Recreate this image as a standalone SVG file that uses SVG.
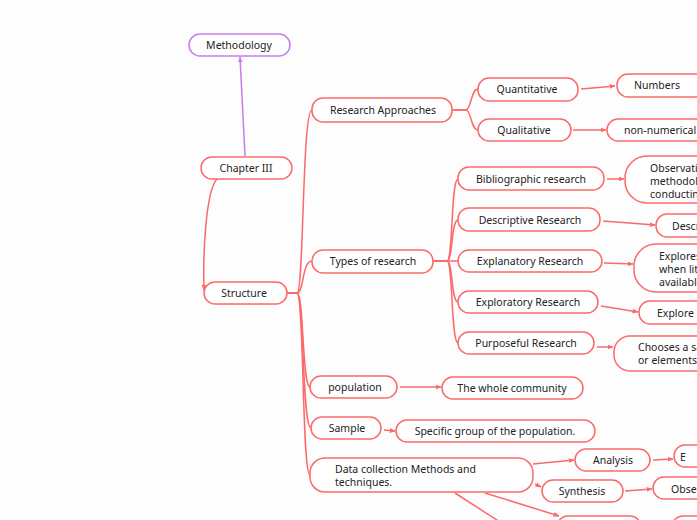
<svg xmlns="http://www.w3.org/2000/svg" width="697" height="520" viewBox="0 0 697 520">
<defs>
<style>
.n{fill:#fff;stroke:#fb6a6a;stroke-width:1.5}
.p{fill:#fff;stroke:#c77de8;stroke-width:1.5}
text{font-family:"Noto Sans","Liberation Sans",sans-serif;font-size:10.5px;fill:#222}
.c{text-anchor:middle;dominant-baseline:central}
.l{dominant-baseline:central}
.e{fill:none;stroke:#fb6a6a;stroke-width:1.5}
.ep{fill:none;stroke:#c77de8;stroke-width:1.5}
</style>
<marker id="a" viewBox="0 0 10 10" refX="9" refY="5" markerWidth="6" markerHeight="6" orient="auto" markerUnits="userSpaceOnUse"><path d="M0,1 L10,5 L0,9 z" fill="#fb6a6a"/></marker>
<marker id="ap" viewBox="0 0 10 10" refX="9" refY="5" markerWidth="6" markerHeight="6" orient="auto" markerUnits="userSpaceOnUse"><path d="M0,1 L10,5 L0,9 z" fill="#c77de8"/></marker>
</defs>
<rect width="697" height="520" fill="#fdfdfd"/>
<g id="connectors">
<path class="ep" d="M245,156 L240,57" marker-end="url(#ap)"/>
<path class="e" d="M217,179 C205,192 203,260 204,290" marker-end="url(#a)"/>
<path class="e" d="M287,293 L297,293 C304,293 302,110 312,110"/>
<path class="e" d="M287,293 L297,293 C304,293 302,261 312,261"/>
<path class="e" d="M287,293 L297,293 C304,293 302,387 310,387"/>
<path class="e" d="M287,293 L297,293 C304,293 302,428 311,428"/>
<path class="e" d="M287,293 L297,293 C304,293 302,475 310,475"/>
<path class="e" d="M452,110 L466,110 C471,110 471,89 478,89"/>
<path class="e" d="M452,110 L466,110 C471,110 471,130 478,130"/>
<path class="e" d="M433,261 L447,261 C453,261 451,179 458,179"/>
<path class="e" d="M433,261 L447,261 C453,261 451,220 458,220"/>
<path class="e" d="M433,261 L458,261"/>
<path class="e" d="M433,261 L447,261 C453,261 451,302 458,302"/>
<path class="e" d="M433,261 L447,261 C453,261 451,343 458,343"/>
<path class="e" d="M581,89 L615,86" marker-end="url(#a)"/>
<path class="e" d="M573,130 L606,130" marker-end="url(#a)"/>
<path class="e" d="M607,179 L624,179" marker-end="url(#a)"/>
<path class="e" d="M603,221 L655,225" marker-end="url(#a)"/>
<path class="e" d="M604,263 L633,264" marker-end="url(#a)"/>
<path class="e" d="M601,306 L638,312" marker-end="url(#a)"/>
<path class="e" d="M597,347 L613,347" marker-end="url(#a)"/>
<path class="e" d="M400,387 L441,387" marker-end="url(#a)"/>
<path class="e" d="M384,430 L395,431" marker-end="url(#a)"/>
<path class="e" d="M533,464 L574,460" marker-end="url(#a)"/>
<path class="e" d="M653,460 L673,459" marker-end="url(#a)"/>
<path class="e" d="M535,484 L541,487" marker-end="url(#a)"/>
<path class="e" d="M625,491 L652,489" marker-end="url(#a)"/>
<path class="e" d="M485,493 L559,516" marker-end="url(#a)"/>
<path class="e" d="M455,493 L500,522"/>
</g>
<g id="methodology"><rect class="p" x="189" y="34" width="101" height="22" rx="11"/><text class="c" x="239" y="45">Methodology</text></g>
<g id="chapter3"><rect class="n" x="201" y="157" width="91" height="22" rx="11"/><text class="c" x="246" y="168">Chapter III</text></g>
<g id="structure"><rect class="n" x="204" y="282" width="83" height="22" rx="11"/><text class="c" x="244" y="293">Structure</text></g>
<g id="approaches"><rect class="n" x="312" y="98" width="140" height="24" rx="11"/><text class="c" x="383" y="110">Research Approaches</text></g>
<g id="types"><rect class="n" x="312" y="250" width="121" height="23" rx="11"/><text class="c" x="373" y="261">Types of research</text></g>
<g id="population"><rect class="n" x="310" y="376" width="87" height="22" rx="11"/><text class="c" x="355" y="387">population</text></g>
<g id="sample"><rect class="n" x="311" y="417" width="70" height="22" rx="11"/><text class="c" x="347" y="428">Sample</text></g>
<g id="datacollection"><rect class="n" x="310" y="458" width="223" height="34" rx="15"/><text class="l" x="335" y="469">Data collection Methods and</text><text class="l" x="335" y="482">techniques.</text></g>
<g id="quantitative"><rect class="n" x="478" y="78" width="100" height="23" rx="11"/><text class="c" x="527" y="89">Quantitative</text></g>
<g id="qualitative"><rect class="n" x="478" y="119" width="93" height="22" rx="11"/><text class="c" x="524" y="130">Qualitative</text></g>
<g id="numbers"><rect class="n" x="617" y="74" width="100" height="23" rx="11"/><text class="c" x="657" y="85">Numbers</text></g>
<g id="nonnumerical"><rect class="n" x="607" y="119" width="110" height="22" rx="11"/><text class="l" x="624" y="130">non-numerical</text></g>
<g id="bibliographic"><rect class="n" x="458" y="167" width="146" height="23" rx="11"/><text class="c" x="531" y="179">Bibliographic research</text></g>
<g id="descriptive"><rect class="n" x="458" y="208" width="142" height="23" rx="11"/><text class="c" x="530" y="220">Descriptive Research</text></g>
<g id="explanatory"><rect class="n" x="458" y="250" width="144" height="22" rx="11"/><text class="c" x="530" y="261">Explanatory Research</text></g>
<g id="exploratory"><rect class="n" x="458" y="291" width="140" height="22" rx="11"/><text class="c" x="528" y="302">Exploratory Research</text></g>
<g id="purposeful"><rect class="n" x="458" y="332" width="136" height="22" rx="11"/><text class="c" x="526" y="343">Purposeful Research</text></g>
<g id="observation"><rect class="n" x="625" y="156" width="100" height="47" rx="22"/><text class="l" x="650" y="167.5">Observation</text><text class="l" x="650" y="180.5">methodology</text><text class="l" x="650" y="193.5">conducting</text></g>
<g id="describes"><rect class="n" x="656" y="214" width="80" height="23" rx="11"/><text class="l" x="672" y="226">Describes</text></g>
<g id="explores"><rect class="n" x="634" y="244" width="100" height="48" rx="22"/><text class="l" x="659" y="256">Explores</text><text class="l" x="659" y="269">when little</text><text class="l" x="659" y="282">available</text></g>
<g id="explore"><rect class="n" x="639" y="301" width="90" height="23" rx="11"/><text class="l" x="657" y="313">Explore</text></g>
<g id="chooses"><rect class="n" x="614" y="336" width="110" height="35" rx="16"/><text class="l" x="638" y="347">Chooses a sample</text><text class="l" x="638" y="360">or elements</text></g>
<g id="community"><rect class="n" x="442" y="377" width="141" height="22" rx="11"/><text class="c" x="512" y="388">The whole community</text></g>
<g id="specific"><rect class="n" x="396" y="420" width="199" height="22" rx="11"/><text class="c" x="495" y="431">Specific group of the population.</text></g>
<g id="analysis"><rect class="n" x="575" y="449" width="75" height="22" rx="11"/><text class="c" x="613" y="460">Analysis</text></g>
<g id="analysischild"><rect class="n" x="674" y="445" width="60" height="22" rx="11"/><text class="l" x="680" y="457">E</text></g>
<g id="synthesis"><rect class="n" x="542" y="480" width="81" height="22" rx="11"/><text class="c" x="582" y="491">Synthesis</text></g>
<g id="synthesischild"><rect class="n" x="653" y="477" width="80" height="22" rx="11"/><text class="l" x="671" y="489">Observes</text></g>
<g id="third"><rect class="n" x="557" y="516" width="84" height="22" rx="11"/></g>
<g id="thirdchild"><rect class="n" x="672" y="516" width="80" height="22" rx="11"/></g>
</svg>
